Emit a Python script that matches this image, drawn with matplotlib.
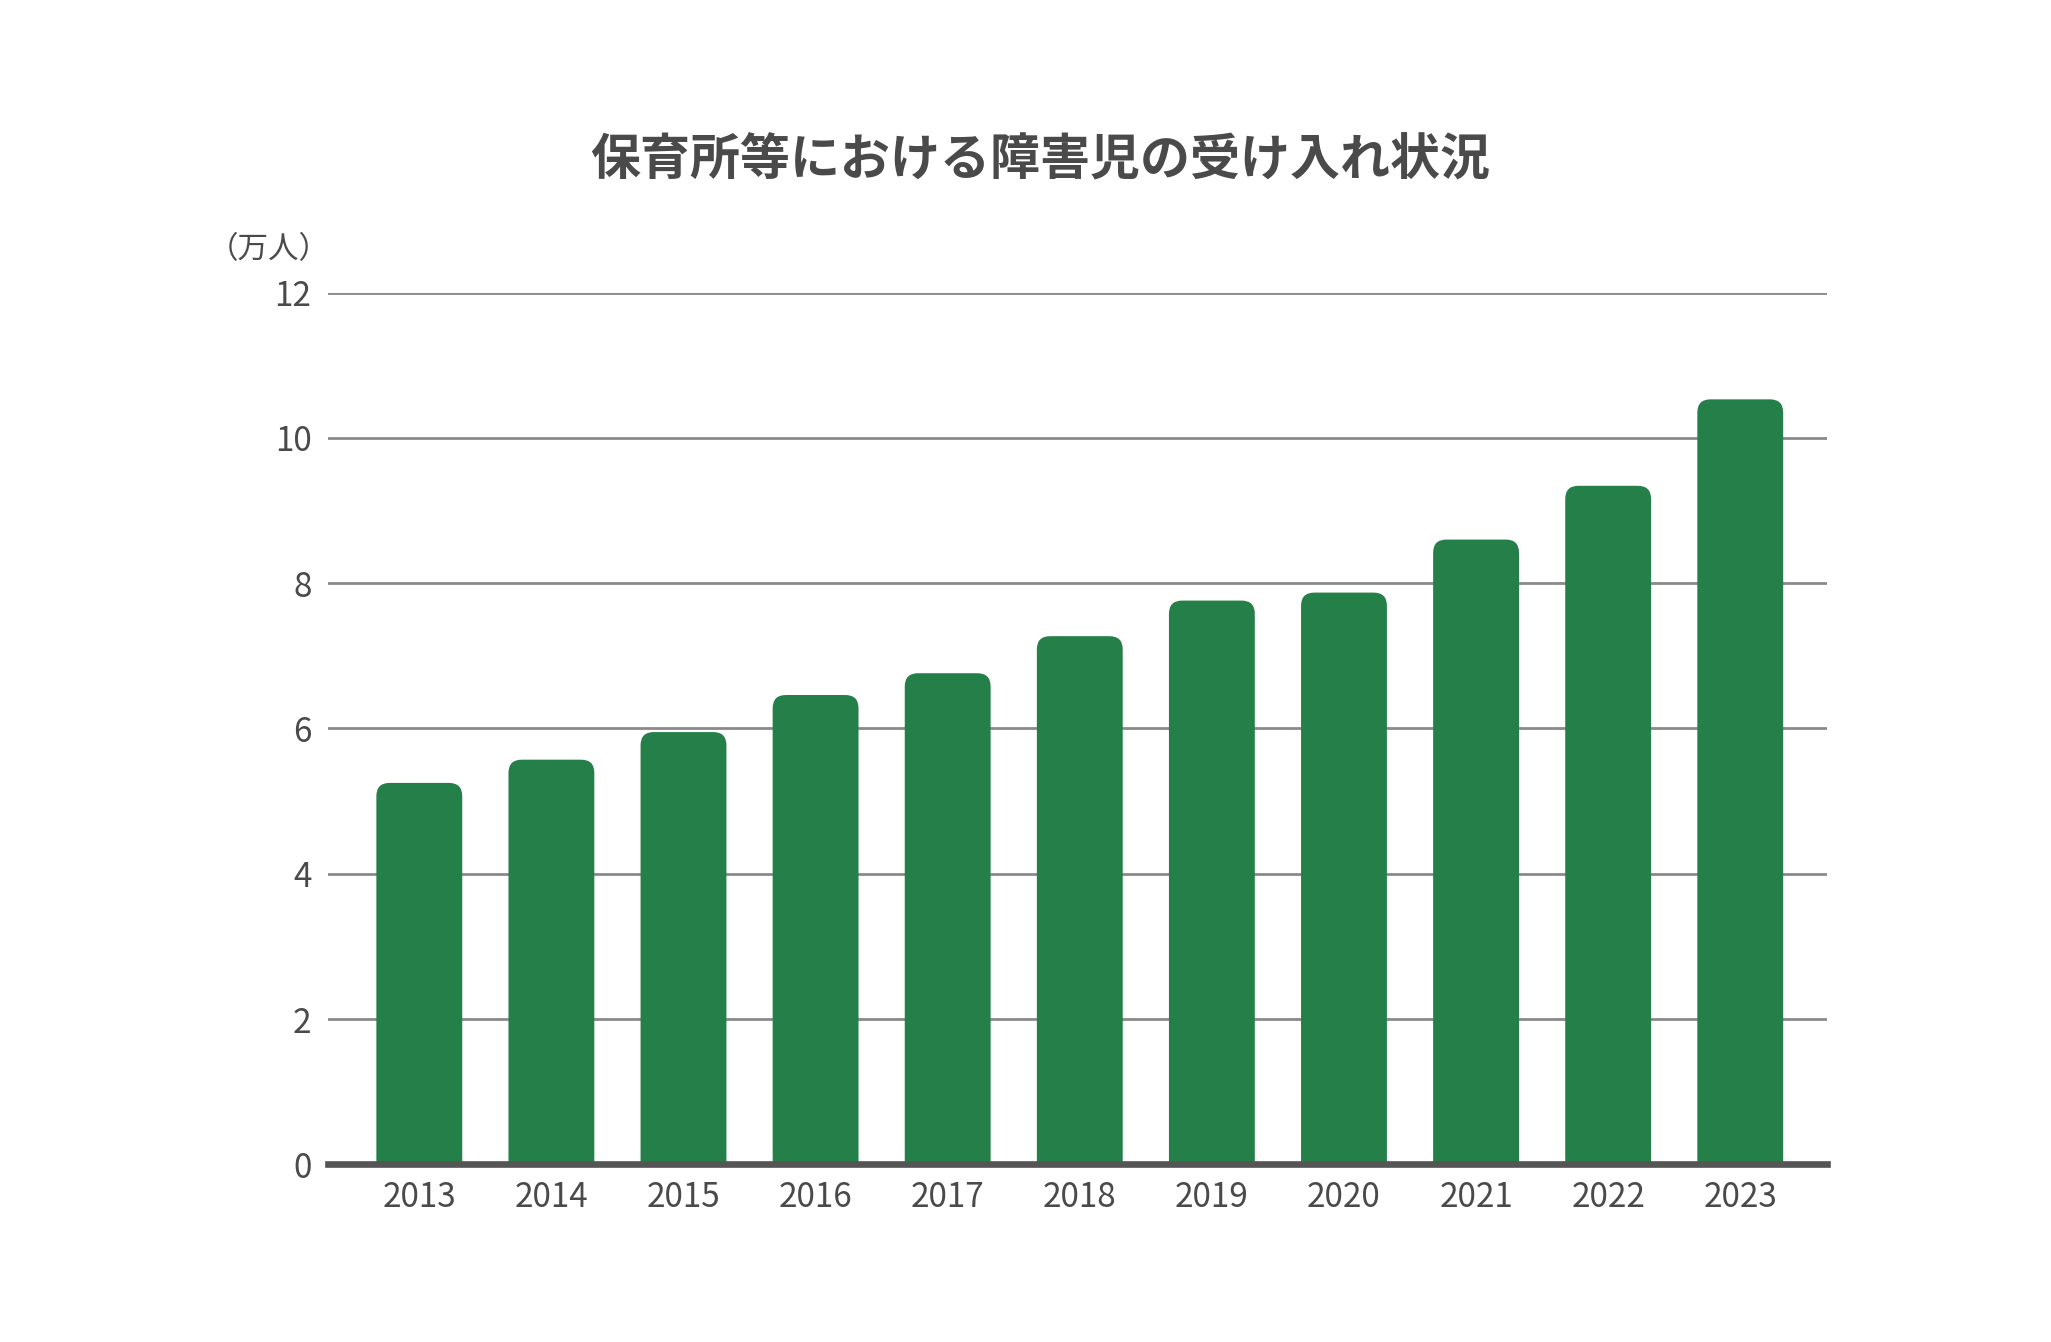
import matplotlib
matplotlib.use("Agg")
import matplotlib.pyplot as plt
from matplotlib.patches import FancyBboxPatch

plt.rcParams["font.family"] = ["Noto Sans CJK JP", "DejaVu Sans"]

# ----- data (万人) -----
years = ["2013", "2014", "2015", "2016", "2017", "2018",
         "2019", "2020", "2021", "2022", "2023"]
children = [5.25, 5.57, 5.95, 6.46, 6.76, 7.27, 7.76, 7.87, 8.60, 9.34, 10.53]

TITLE = "保育所等における障害児の受け入れ状況"
UNIT = "（万人）"
Y_TICKS = [0, 2, 4, 6, 8, 10, 12]

BAR_COLOR = "#247f48"
GRID_COLOR = "#8a8a8a"
TEXT_COLOR = "#4a4a4a"
AXIS_COLOR = "#555555"

DPI = 200
W_PX, H_PX = 2051, 1342
XLIM = (-0.69, 10.66)


def main():
    fig = plt.figure(figsize=(W_PX / DPI, H_PX / DPI), dpi=DPI)
    ax = fig.add_axes([0.160, 0.1324, 0.731, 0.6496])

    x = list(range(len(years)))
    bars = ax.bar(x, children, width=0.65, color=BAR_COLOR, zorder=2)

    ax.set_xlim(*XLIM)
    ax.set_ylim(0, 12)

    # round the top corners: swap the plain bars for rounded patches
    bbox = ax.get_window_extent()
    px_per_x = bbox.width / (XLIM[1] - XLIM[0])
    px_per_y = bbox.height / 12
    aspect = px_per_x / px_per_y
    rx = 0.10
    for b in bars:
        b.set_visible(False)
        patch = FancyBboxPatch(
            (b.get_x(), -1.0), b.get_width(), b.get_height() + 1.0,
            boxstyle=f"round,pad=0,rounding_size={rx}",
            mutation_aspect=aspect,
            facecolor=BAR_COLOR, edgecolor="none", zorder=2,
        )
        ax.add_patch(patch)

    ax.set_yticks(Y_TICKS)
    ax.set_yticklabels([str(t) for t in Y_TICKS])
    ax.set_xticks(x)
    ax.set_xticklabels(years)
    ax.tick_params(axis="both", length=0, labelsize=12, colors=TEXT_COLOR)
    ax.tick_params(axis="y", pad=6)
    ax.tick_params(axis="x", pad=5.5)

    ax.yaxis.grid(True, color=GRID_COLOR, linewidth=1.0, zorder=1)
    ax.set_axisbelow(True)
    for side in ["top", "right", "left"]:
        ax.spines[side].set_visible(False)
    ax.spines["bottom"].set_color(AXIS_COLOR)
    ax.spines["bottom"].set_linewidth(2.4)
    ax.spines["bottom"].set_zorder(3)

    fig.text(0.507, 0.880, TITLE, ha="center", va="center",
             fontsize=18, fontweight="bold", color=TEXT_COLOR)
    fig.text(0.131, 0.814, UNIT, ha="center", va="center",
             fontsize=11, color=TEXT_COLOR)

    fig.savefig("out.png", dpi=DPI, facecolor="white")


if __name__ == "__main__":
    main()
